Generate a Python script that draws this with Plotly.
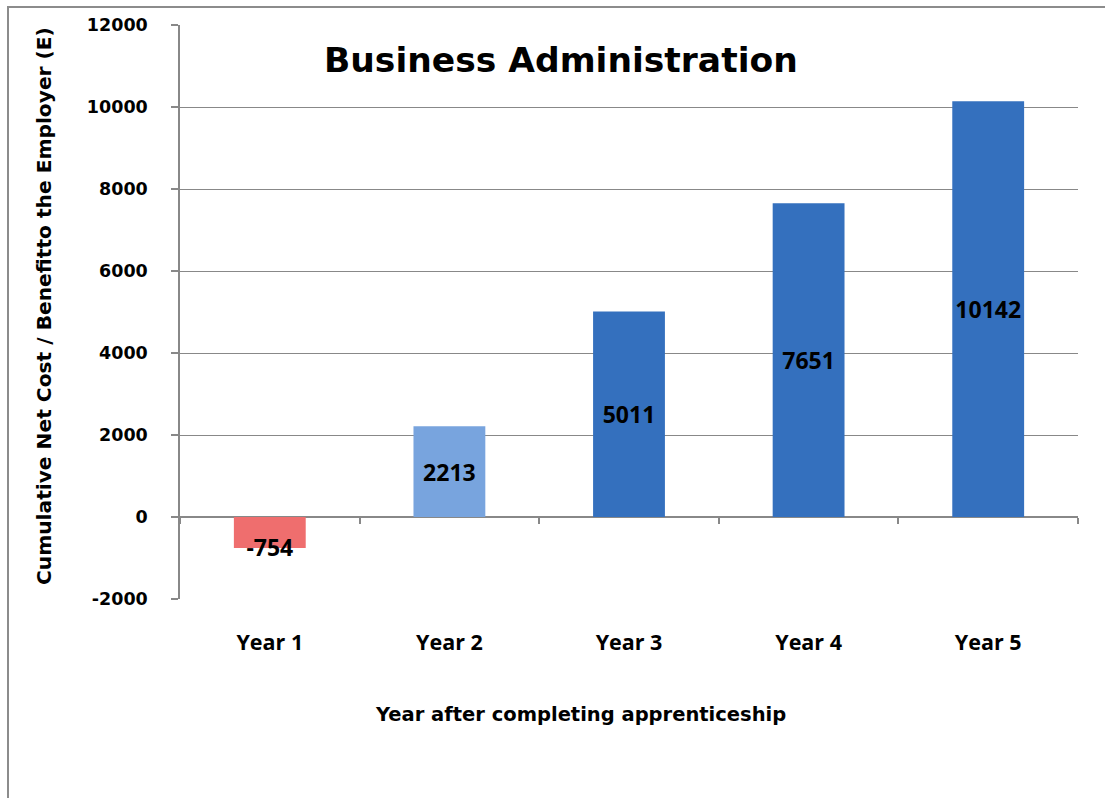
import plotly.graph_objects as go

categories = ["Year 1", "Year 2", "Year 3", "Year 4", "Year 5"]
values = [-754, 2213, 5011, 7651, 10142]
bar_colors = ["#EF6E6E", "#78A4DE", "#3470BE", "#3470BE", "#3470BE"]
y_ticks = [-2000, 0, 2000, 4000, 6000, 8000, 10000, 12000]

title_text = "Business Administration"
x_title = "Year after completing apprenticeship"
y_title = "Cumulative Net Cost / Benefitto the Employer (E)"

y_min, y_max = -2000, 12000
grid = "#888888"
wide_font = "DejaVu Sans"
label_font = "Open Sans"

W, H = 1105, 798
plot_l, plot_r, plot_t, plot_b = 180, 1078, 25, 599
pw = plot_r - plot_l
ph = plot_b - plot_t


def px_x(p):
    return (p - plot_l) / pw


def px_y(p):
    return (plot_b - p) / ph


neg = [v if v < 0 else None for v in values]
pos = [v if v >= 0 else None for v in values]
data_font = dict(family=label_font, size=23, color="#000000", weight="bold")

fig = go.Figure()
fig.add_trace(go.Bar(
    x=categories, y=pos, marker=dict(color=bar_colors, line=dict(width=0)),
    text=[str(v) if v is not None else "" for v in pos],
    textposition="inside", insidetextanchor="middle", constraintext="none",
    textangle=0, textfont=data_font, width=0.4, showlegend=False, hoverinfo="skip",
))
fig.add_trace(go.Bar(
    x=categories, y=neg, marker=dict(color=bar_colors, line=dict(width=0)),
    text=["\u00a0<br>" + str(v) if v is not None else "" for v in neg],
    textposition="inside", insidetextanchor="middle", constraintext="none",
    textangle=0, textfont=data_font, width=0.4, showlegend=False, hoverinfo="skip",
))
# helper trace so the category-boundary tick axis is drawn along the zero line
fig.add_trace(go.Scatter(
    x=[-0.5, len(categories) - 0.5], y=[0, 0], xaxis="x2", mode="markers",
    marker=dict(opacity=0), showlegend=False, hoverinfo="skip",
))

fig.update_layout(
    width=W, height=H,
    margin=dict(l=plot_l, r=W - plot_r, t=plot_t, b=H - plot_b),
    paper_bgcolor="white", plot_bgcolor="white",
    barmode="relative",
    xaxis=dict(
        type="category", range=[-0.5, len(categories) - 0.5],
        showline=False, showgrid=False, zeroline=False, ticks="",
        tickfont=dict(family=label_font, size=21.5, color="#000000", weight="bold"),
        ticklabelstandoff=28,
    ),
    xaxis2=dict(
        overlaying="x", anchor="free",
        position=(0 - y_min) / (y_max - y_min),
        range=[-0.5, len(categories) - 0.5],
        tickvals=[i - 0.5 for i in range(len(categories) + 1)],
        ticks="outside", ticklen=6, tickwidth=1.5, tickcolor=grid,
        showticklabels=False, showgrid=False, showline=False, zeroline=False,
    ),
    yaxis=dict(
        range=[y_min, y_max], tickvals=y_ticks, ticktext=[str(v) for v in y_ticks],
        showgrid=True, gridcolor=grid, gridwidth=1.3,
        zeroline=True, zerolinecolor=grid, zerolinewidth=1.5,
        showline=True, linecolor=grid, linewidth=1.5,
        ticks="outside", ticklen=7, tickcolor=grid, tickwidth=1.5,
        tickfont=dict(family=wide_font, size=17.5, color="#000000", weight="bold"),
        ticklabelstandoff=20,
    ),
    annotations=[
        dict(text=title_text, xref="paper", yref="paper",
             x=px_x(561), y=px_y(60), xanchor="center", yanchor="middle",
             showarrow=False,
             font=dict(family=wide_font, size=34.5, color="#000000", weight="bold")),
        dict(text=x_title, xref="paper", yref="paper",
             x=px_x(580), y=px_y(714), xanchor="center", yanchor="middle",
             showarrow=False,
             font=dict(family=wide_font, size=19.5, color="#000000", weight="bold")),
        dict(text=y_title, xref="paper", yref="paper", textangle=-90,
             x=px_x(44), y=px_y(306), xanchor="center", yanchor="middle",
             showarrow=False,
             font=dict(family=wide_font, size=20.2, color="#000000", weight="bold")),
    ],
    shapes=[dict(
        type="rect", xref="paper", yref="paper",
        x0=px_x(8), x1=px_x(W + 10), y0=px_y(H + 10), y1=px_y(7),
        line=dict(color="#8C8C8C", width=2), fillcolor="rgba(0,0,0,0)", layer="below",
    )],
)

fig.write_html(
    "out.html",
    config={"displayModeBar": False},
    post_script="document.body.style.margin='0';document.body.style.overflow='hidden';",
)
